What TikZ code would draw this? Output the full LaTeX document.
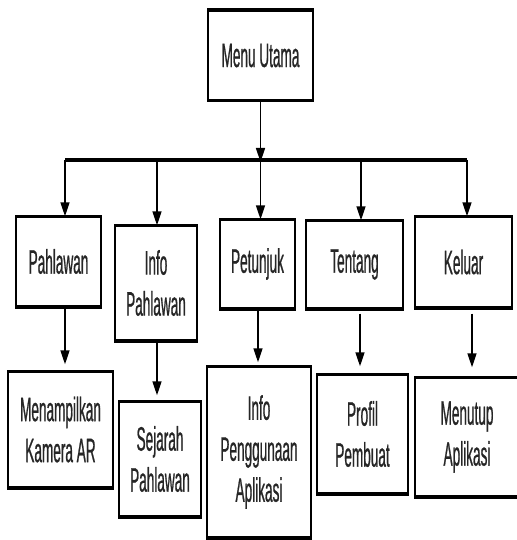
\documentclass[tikz,border=0pt]{standalone}
\usepackage{fontspec}
\setmainfont{Liberation Sans}[FakeStretch=0.40, FakeBold=0.6]
\usetikzlibrary{arrows.meta}
\usetikzlibrary{positioning}

\begin{document}
\begin{tikzpicture}[x=1pt, y=-1pt,
    box/.style={draw, line width=1.4pt, inner sep=0pt, align=center,
        text=black!85, font=\fontsize{34}{41}\selectfont},
    edge/.style={line width=3.6pt},
    arr/.style={line width=1.5pt, -{Triangle[length=14pt, width=9pt]}}]

    \useasboundingbox (0,0) rectangle (516,540);

    % menu utama
    \node[box, minimum width=105, minimum height=89] (menu) at (260.5, 55.5) {Menu Utama};

    % level 2
    \node[box, minimum width=85, minimum height=89] (pahlawan) at (58.5, 261.5) {Pahlawan};
    \node[box, minimum width=82, minimum height=114] (infopahlawan) at (156, 283) {Info\\Pahlawan};
    \node[box, minimum width=75, minimum height=88] (petunjuk) at (257.5, 264) {Petunjuk};
    \node[box, minimum width=97, minimum height=87] (tentang) at (354.5, 264.5) {Tentang};
    \node[box, minimum width=97, minimum height=90] (keluar) at (463.5, 262) {Keluar};

    % level 3
    \node[box, minimum width=105, minimum height=115] (kamera) at (60.5, 429.5) {Menampilkan\\Kamera AR};
    \node[box, minimum width=82, minimum height=114] (sejarah) at (160, 459) {Sejarah\\Pahlawan};
    \node[box, minimum width=104, minimum height=170] (penggunaan) at (259, 452) {Info\\Penggunaan\\Aplikasi};
    \node[box, minimum width=91, minimum height=118] (profil) at (362.5, 434) {Profil\\Pembuat};
    \node[box, minimum width=104, minimum height=118] (menutup) at (467, 437) {Menutup\\Aplikasi};

    % thick top and bottom edges
    \foreach \n in {menu,pahlawan,infopahlawan,petunjuk,tentang,keluar,kamera,sejarah,penggunaan,profil,menutup}
        \draw[edge] (\n.north west) -- (\n.north east) (\n.south west) -- (\n.south east);

    % bus
    \coordinate (b1) at (65, 160);
    \coordinate (b2) at (157, 160);
    \coordinate (b3) at (260.5, 160);
    \coordinate (b4) at (361, 160);
    \coordinate (b5) at (467, 160);
    \draw[line width=4pt] (b1) -- (b5);
    \draw[arr] (menu.south) -- ([yshift=-2pt]b3);

    \draw[arr] (b1) -- (b1 |- pahlawan.north);
    \draw[arr] (b2) -- (b2 |- infopahlawan.north);
    \draw[arr] (b3) -- (b3 |- petunjuk.north);
    \draw[arr] (b4) -- (b4 |- tentang.north);
    \draw[arr] (b5) -- (b5 |- keluar.north);

    \draw[arr, shorten >=7pt] (b1 |- pahlawan.south) -- (b1 |- kamera.north);
    \draw[arr, shorten >=6pt] (b2 |- infopahlawan.south) -- (b2 |- sejarah.north);
    \draw[arr, shorten >=4pt] ([xshift=-2.5pt]b3 |- petunjuk.south) -- ([xshift=-2.5pt]b3 |- penggunaan.north);
    \draw[arr, shorten <=5pt, shorten >=8pt] ([xshift=-1pt]b4 |- tentang.south) -- ([xshift=-1pt]b4 |- profil.north);
    \draw[arr, shorten <=6pt, shorten >=10pt] ([xshift=5pt]b5 |- keluar.south) -- ([xshift=5pt]b5 |- menutup.north);

\end{tikzpicture}
\end{document}
